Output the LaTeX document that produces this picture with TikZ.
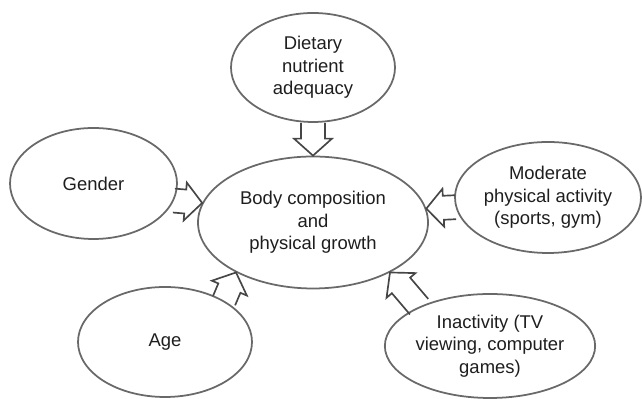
\documentclass[tikz,border=0pt]{standalone}
\usepackage{fontspec}
\setmainfont{Liberation Sans}
\usepackage{tikz}
\usepackage{xcolor}
\usetikzlibrary{shapes.geometric,calc}

\definecolor{linegray}{RGB}{105,105,105}
\definecolor{arrowgray}{RGB}{70,70,70}
\definecolor{textgray}{RGB}{30,30,30}

\begin{document}
\begin{tikzpicture}[
        bubble/.style={ellipse, draw=linegray, line width=1pt, align=center,
            inner sep=0pt, text=textgray, font=\fontsize{10.5}{12.8}\selectfont},
        hollow/.style={draw=arrowgray, line width=0.95pt, line join=miter,
            to path={let \p1=(\tikztostart), \p2=(\tikztotarget),
                \n1={atan2(\y2-\y1,\x2-\x1)}, \n2={veclen(\x2-\x1,\y2-\y1)} in
                ($(\p1)+(\n1+90:0.24cm)$) -- ++(\n1:\n2-0.34cm) -- ++(\n1+90:0.14cm)
                -- (\p2) -- ($(\p2)+(\n1:-0.34cm)+(\n1-90:0.38cm)$)
                -- ++(\n1+90:0.14cm) -- ($(\p1)+(\n1-90:0.24cm)$)}}]
        \useasboundingbox (0,0) rectangle (12.84,7.98);

        % Centre: what the factors act on
        \node[bubble, minimum width=4.6cm, minimum height=2.64cm] (body) at (6.26,3.53)
            {Body composition\\and\\physical growth};

        % Factors round it
        \node[bubble, minimum width=3.28cm, minimum height=2.18cm] (diet) at (6.26,6.63)
            {Dietary\\nutrient\\adequacy};
        \node[bubble, minimum width=3.34cm, minimum height=2.22cm] (gender) at (1.87,4.31)
            {Gender};
        \node[bubble, minimum width=3.72cm, minimum height=2.22cm] (activity) at (10.96,4.03)
            {Moderate\\physical activity\\(sports, gym)};
        \node[bubble, minimum width=3.48cm, minimum height=2.2cm] (age) at (3.30,1.14)
            {Age};
        \node[bubble, minimum width=4.2cm, minimum height=2.08cm] (inactive) at (9.80,1.06)
            {Inactivity (TV\\viewing, computer\\games)};

        % Hollow arrows into the centre
        \draw[hollow] (diet.south) to (body.north);
        \draw[hollow] (gender.-12) to (body.170);
        \draw[hollow] (activity.186) to (body.7);
        \draw[hollow] (age.35) to (body.213);
        \draw[hollow] (inactive.151) to (body.-33);
    \end{tikzpicture}
\end{document}
